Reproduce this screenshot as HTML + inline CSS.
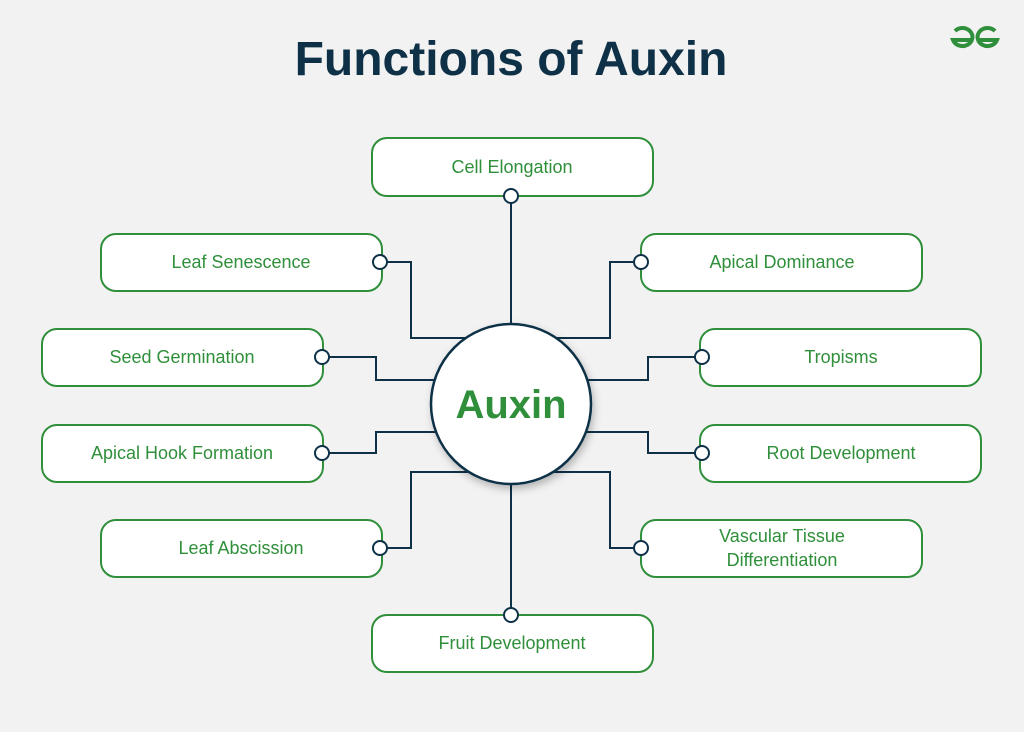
<!DOCTYPE html>
<html><head><meta charset="utf-8"><style>
body{margin:0;width:1024px;height:732px;background:#f2f2f2;overflow:hidden}
svg{display:block}
text{font-family:"Liberation Sans",sans-serif}
.b{fill:#fff;stroke:#2f8f3a;stroke-width:2}
.t{fill:#2f8f3a;font-size:18px;text-anchor:middle}
.l{fill:none;stroke:#0e3147;stroke-width:2}
.d{fill:#fff;stroke:#0e3147;stroke-width:2}
</style></head><body>
<svg width="1024" height="732" viewBox="0 0 1024 732">
<defs><filter id="s" x="-30%" y="-30%" width="160%" height="160%"><feDropShadow dx="2" dy="4" stdDeviation="4" flood-opacity="0.25"/></filter></defs>
<text x="511" y="75" text-anchor="middle" font-size="48" font-weight="bold" fill="#0e3147">Functions of Auxin</text>
<g fill="none" stroke="#2f8f3a" stroke-width="4">
<path d="M955 31 A10 9 0 1 1 953 40 L973 40"/>
<path d="M995 31 A10 9 0 1 0 997 40 L977 40"/>
</g>
<path class="l" d="M511 196V330 M380 262H411V338H470 M641 262H610V338H552 M322 357H376V380H440 M322 453H376V432H440 M380 548H411V472H470 M702 357H648V380H582 M702 453H648V432H582 M641 548H610V472H552 M511 480V615"/>
<rect class="b" x="372" y="138" width="281" height="58" rx="15"/><text class="t" x="512" y="173">Cell Elongation</text>
<rect class="b" x="101" y="234" width="281" height="57" rx="15"/><text class="t" x="241" y="268">Leaf Senescence</text>
<rect class="b" x="641" y="234" width="281" height="57" rx="15"/><text class="t" x="782" y="268">Apical Dominance</text>
<rect class="b" x="42" y="329" width="281" height="57" rx="15"/><text class="t" x="182" y="363">Seed Germination</text>
<rect class="b" x="700" y="329" width="281" height="57" rx="15"/><text class="t" x="841" y="363">Tropisms</text>
<rect class="b" x="42" y="425" width="281" height="57" rx="15"/><text class="t" x="182" y="459">Apical Hook Formation</text>
<rect class="b" x="700" y="425" width="281" height="57" rx="15"/><text class="t" x="841" y="459">Root Development</text>
<rect class="b" x="101" y="520" width="281" height="57" rx="15"/><text class="t" x="241" y="554">Leaf Abscission</text>
<rect class="b" x="641" y="520" width="281" height="57" rx="15"/><text class="t" x="782" y="542">Vascular Tissue</text><text class="t" x="782" y="566">Differentiation</text>
<rect class="b" x="372" y="615" width="281" height="57" rx="15"/><text class="t" x="512" y="649">Fruit Development</text>
<circle cx="511" cy="404" r="80" fill="#fff" stroke="#0e3147" stroke-width="2.5" filter="url(#s)"/>
<text x="511" y="418" text-anchor="middle" font-size="40" font-weight="bold" fill="#2f8f3a">Auxin</text>
<g class="d">
<circle cx="511" cy="196" r="7"/><circle cx="380" cy="262" r="7"/><circle cx="641" cy="262" r="7"/>
<circle cx="322" cy="357" r="7"/><circle cx="702" cy="357" r="7"/><circle cx="322" cy="453" r="7"/>
<circle cx="702" cy="453" r="7"/><circle cx="380" cy="548" r="7"/><circle cx="641" cy="548" r="7"/>
<circle cx="511" cy="615" r="7"/>
</g>
</svg>
</body></html>
